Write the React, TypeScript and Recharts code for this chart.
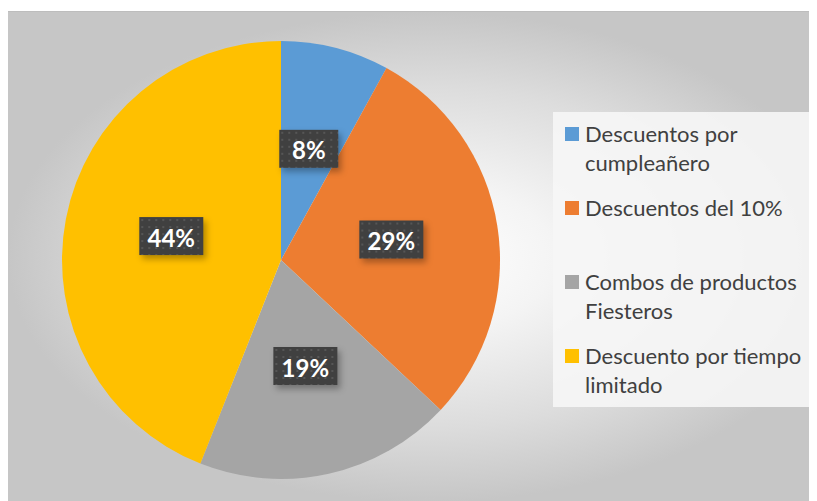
import { Legend, Pie, PieChart } from "recharts";

const categorias = [
  "Descuentos por cumpleañero",
  "Descuentos del 10%",
  "Combos de productos Fiesteros",
  "Descuento por tiempo limitado",
];
const valores = [8, 29, 19, 44];
const colores = ["#5B9BD5", "#ED7D31", "#A5A5A5", "#FFC000"];

const data = categorias.map((name, i) => ({ name, value: valores[i], fill: colores[i] }));

const RADIAN = Math.PI / 180;

function Etiqueta(props: any) {
  const { cx, cy, midAngle, outerRadius, percent, index } = props;
  const r = outerRadius * 0.51;
  const x = cx + r * Math.cos(-midAngle * RADIAN);
  const y = cy + r * Math.sin(-midAngle * RADIAN) - 3;
  const txt = `${Math.round(percent * 100)}%`;
  const w = txt.length === 2 ? 59 : 64;
  const h = 38;
  const id = `puntos${index}`;
  return (
    <g>
      <defs>
        <pattern id={id} width={7} height={7} patternUnits="userSpaceOnUse" x={x - w / 2} y={y - h / 2}>
          <rect width={7} height={7} fill="#404040" />
          <rect x={2} y={2} width={2} height={2} fill="#565656" />
        </pattern>
      </defs>
      <rect
        x={x - w / 2}
        y={y - h / 2}
        width={w}
        height={h}
        fill={`url(#${id})`}
        style={{ filter: "drop-shadow(3px 4px 3px rgba(0,0,0,0.3))" }}
      />
      <text
        x={x}
        y={y + 1}
        textAnchor="middle"
        dominantBaseline="central"
        fill="#ffffff"
        fontFamily="Lato, 'Open Sans', sans-serif"
        fontWeight={700}
        fontSize={24}
      >
        {txt}
      </text>
    </g>
  );
}

function Leyenda() {
  return (
    <div
      style={{
        background: "rgba(246,246,246,0.9)",
        width: 262,
        height: 295,
        boxSizing: "border-box",
        paddingTop: 8,
        fontFamily: "Lato, 'Open Sans', sans-serif",
        fontSize: 22,
        lineHeight: "28.5px",
        color: "#404040",
      }}
    >
      {data.map((d) => (
        <div key={d.name} style={{ display: "flex", height: 74 }}>
          <div
            style={{
              width: 14,
              height: 14,
              background: d.fill,
              marginLeft: 12,
              marginTop: 7,
              flexShrink: 0,
            }}
          />
          <div style={{ marginLeft: 6, width: 228 }}>{d.name}</div>
        </div>
      ))}
    </div>
  );
}

export default function App() {
  return (
    <div style={{ paddingTop: 3 }}>
      <style>{`.recharts-pie-sectors{filter:drop-shadow(0 0 7px rgba(0,0,0,0.22));}`}</style>
      <div
        style={{
          width: 809,
          height: 490,
          position: "relative",
          borderTop: "1px solid #bdbdbd",
          background:
            "radial-gradient(ellipse farthest-side at 52% 50%, #ffffff 0%, #f4f4f4 30%, #dcdcdc 70%, #c6c6c6 100%)",
        }}
      >
        <PieChart width={809} height={490}>
          <Pie
            data={data}
            dataKey="value"
            nameKey="name"
            cx={268}
            cy={243}
            outerRadius={219}
            startAngle={90}
            endAngle={-270}
            stroke="none"
            label={Etiqueta}
            labelLine={false}
            isAnimationActive={false}
          />
          <Legend
            content={<Leyenda />}
            wrapperStyle={{ left: 545, top: 100, width: 262, height: 295 }}
          />
        </PieChart>
      </div>
    </div>
  );
}
